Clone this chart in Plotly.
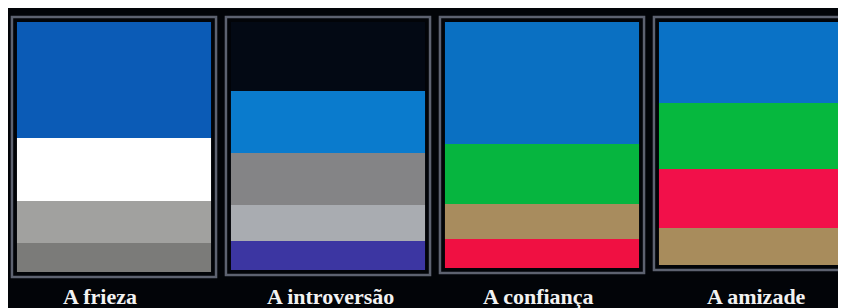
import numpy as np
import plotly.graph_objects as go

categories = ["A frieza", "A introversão", "A confiança", "A amizade"]

# band heights, top band first
band1 = [116, 69, 122, 81]
band2 = [63, 62, 60, 66]
band3 = [42, 52, 35, 59]
band4 = [29, 36, 29, 37]
band5 = [0, 29, 0, 0]

color1 = ["#0b5bb6", "#030914", "#0a70c2", "#0a72c6"]
color2 = ["#ffffff", "#0a7bcd", "#06b53f", "#06b83e"]
color3 = ["#a1a19f", "#848486", "#a88c5e", "#f2104a"]
color4 = ["#7b7b79", "#a9acb1", "#f01042", "#a88c5c"]
color5 = ["#000000", "#3c36a2", "#000000", "#000000"]

label_xshift = [-14, 2, -4, 0]

bands = [band1, band2, band3, band4, band5]
colors = [color1, color2, color3, color4, color5]

x = np.arange(len(categories))
bar_w = 0.907
frame_pad = 5
px_per_unit = 214.0

fig = go.Figure()
totals = np.sum(np.array(bands), axis=0)
# frames
fig.add_trace(go.Bar(
    x=x, y=totals + 2 * frame_pad, base=[-frame_pad] * len(categories),
    width=bar_w + 2 * frame_pad / px_per_unit,
    marker=dict(color="rgba(0,0,0,0)", line=dict(color="#5d6270", width=2.5)),
    hoverinfo="skip", showlegend=False,
))
base = np.zeros(len(categories))
for vals, cols in zip(bands, colors):
    v = np.array(vals, dtype=float)
    fig.add_trace(go.Bar(
        x=x, y=v, base=base.copy(), width=bar_w,
        marker=dict(color=cols, line=dict(width=0)),
        showlegend=False,
    ))
    base = base + v

annotations = [
    dict(x=xi, y=0, xref="x", yref="paper", text=lab, showarrow=False,
         yanchor="middle", xanchor="center", yshift=-16, xshift=dx,
         font=dict(family="Liberation Serif", size=22, color="#f2f2f2", weight="bold"))
    for xi, lab, dx in zip(x, categories, label_xshift)
]

x0 = -106 / px_per_unit
fig.update_layout(
    width=846, height=308,
    barmode="overlay",
    margin=dict(l=0, r=0, t=0, b=36),
    paper_bgcolor="#020408",
    plot_bgcolor="#020408",
    annotations=annotations,
    xaxis=dict(range=[x0, x0 + 846 / px_per_unit], showticklabels=False,
               showgrid=False, zeroline=False, showline=False, ticks=""),
    yaxis=dict(range=[258, -14], visible=False, showgrid=False, zeroline=False),
)

fig.write_html("out.html")
